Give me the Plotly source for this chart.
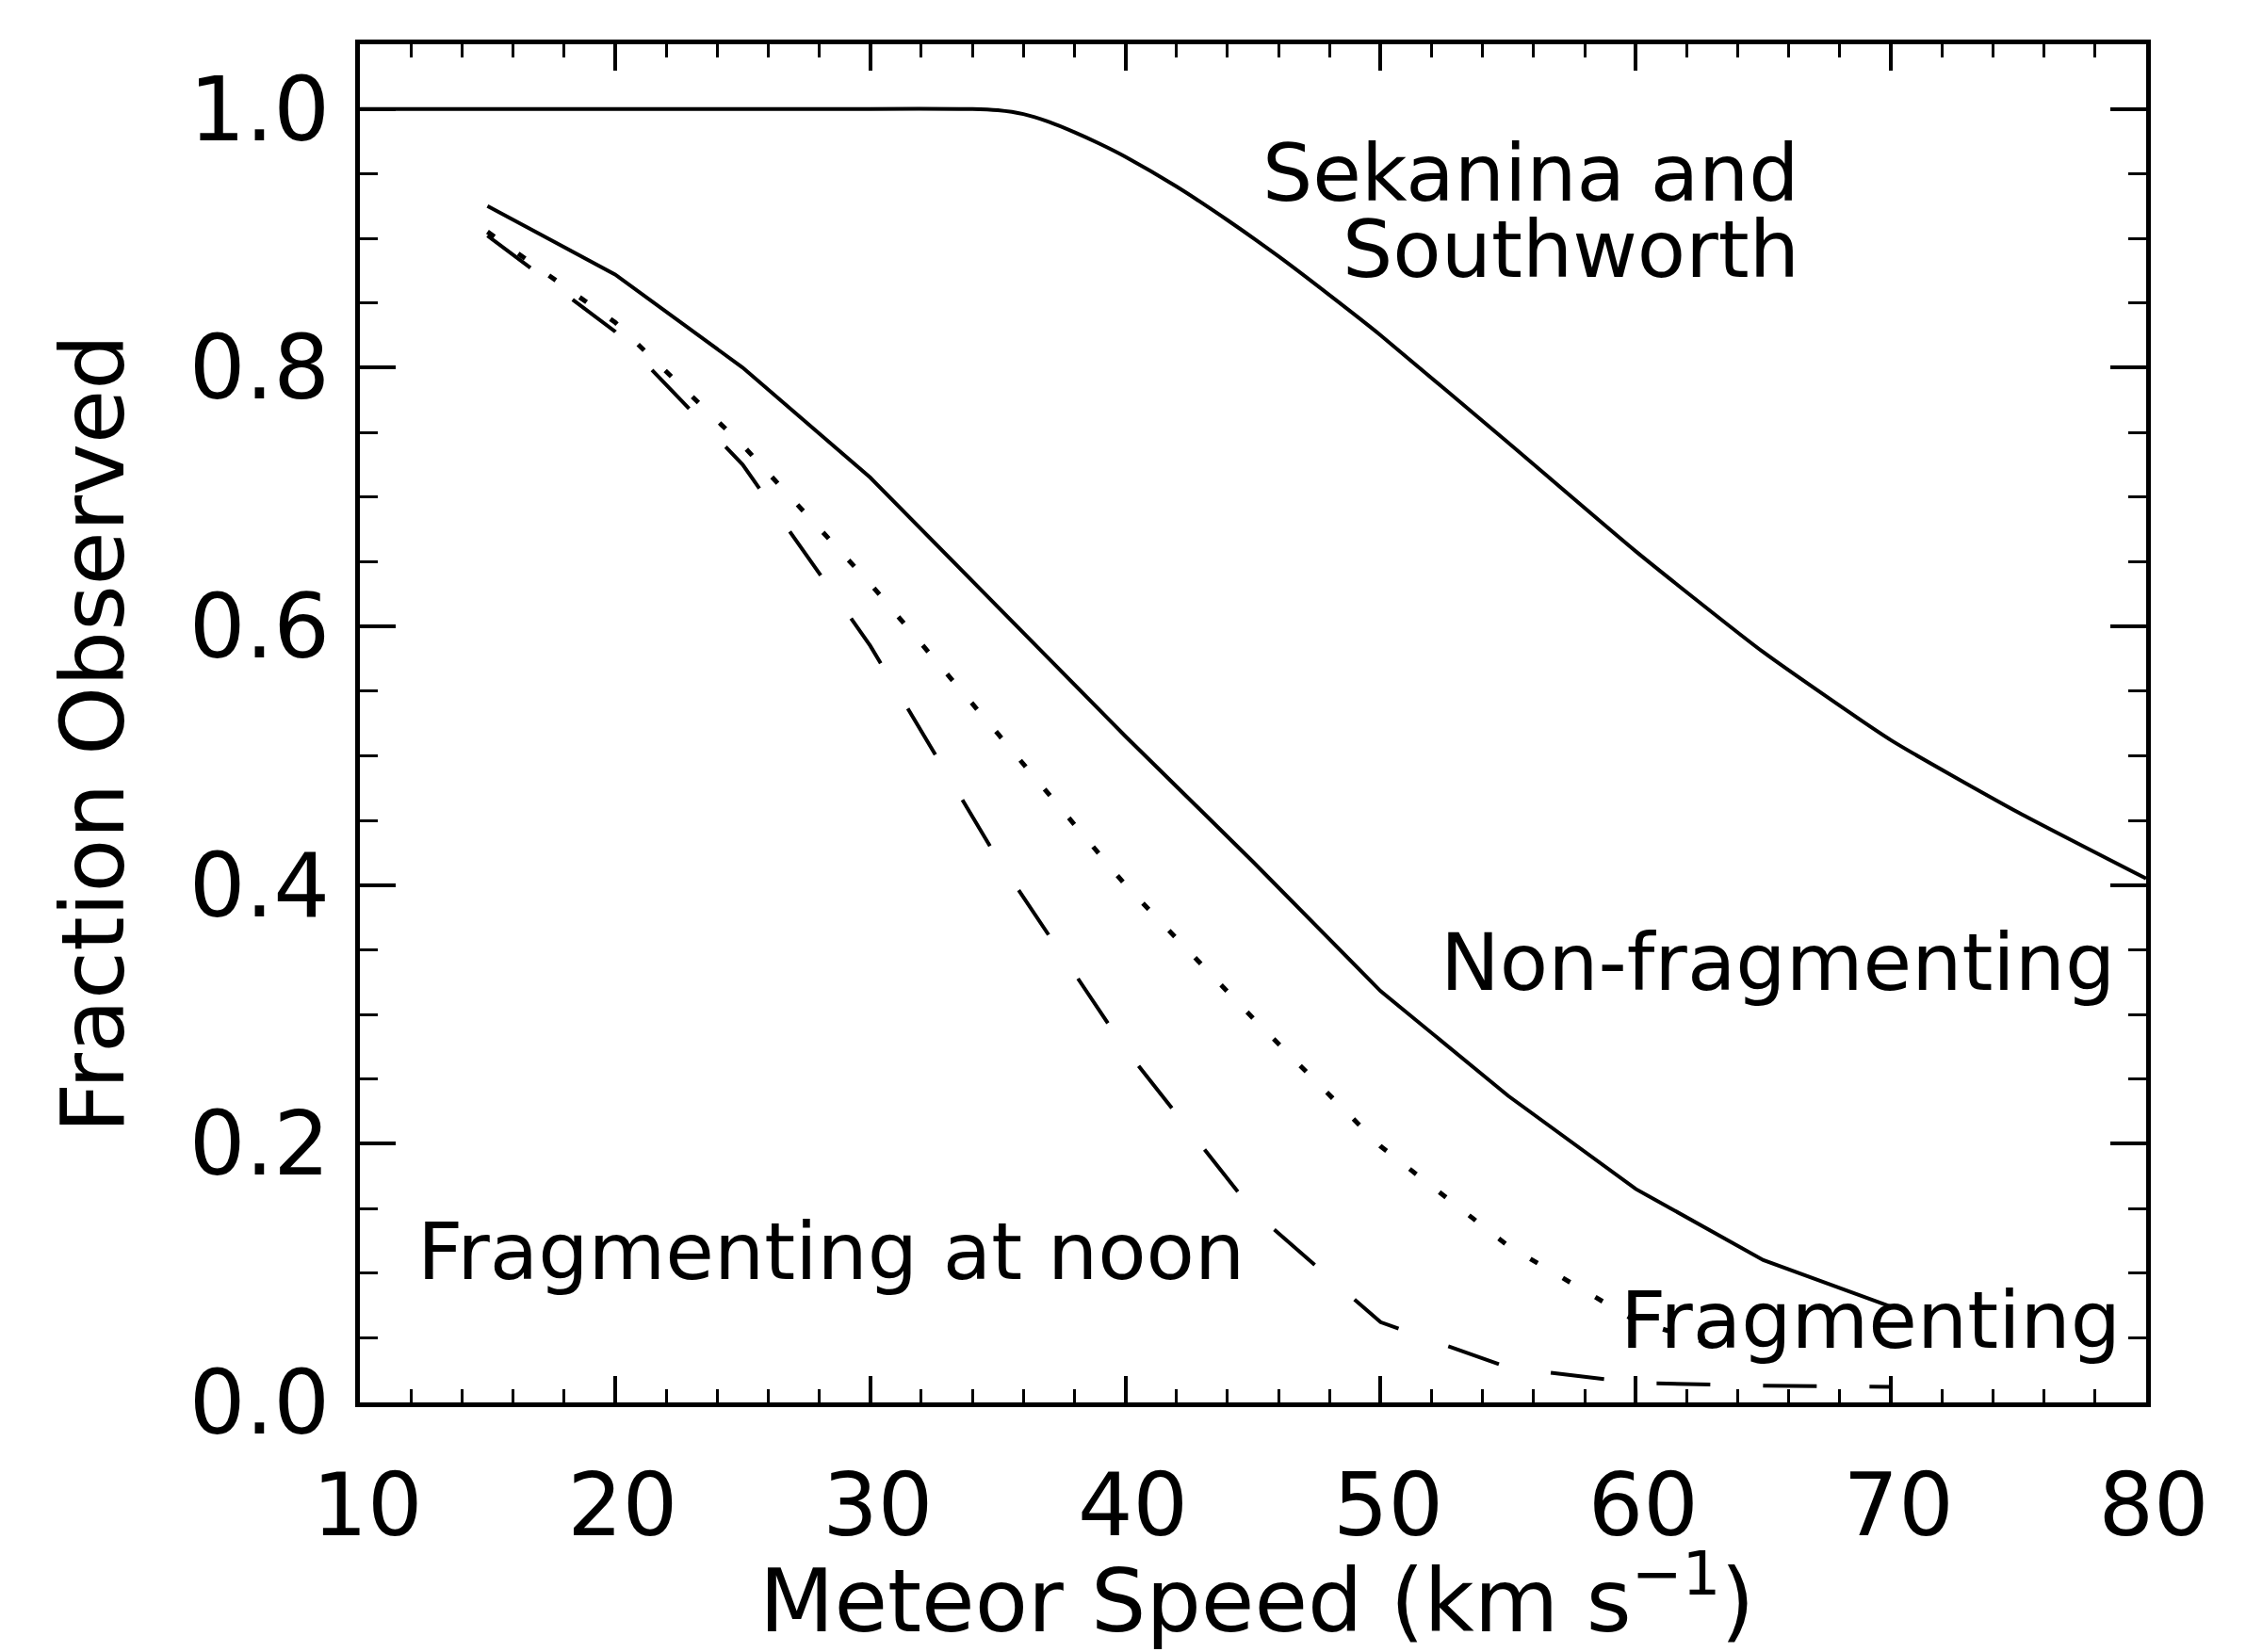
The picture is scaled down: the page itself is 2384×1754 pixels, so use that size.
import plotly.graph_objects as go

# ---------------- data ----------------
speed_sek = [10, 20, 30, 34, 35, 36, 37, 38, 39, 40, 42, 44, 46, 48, 50, 55, 60, 65, 70, 75, 80]
frac_sek = [1.0, 1.0, 1.0, 1.0, 0.999, 0.996, 0.99, 0.982, 0.973, 0.963, 0.94, 0.914, 0.886,
            0.856, 0.825, 0.742, 0.658, 0.58, 0.512, 0.456, 0.405]

speed_nonfrag = [15, 20, 25, 30, 35, 40, 45, 50, 55, 60, 65, 70]
frac_nonfrag = [0.925, 0.872, 0.80, 0.715, 0.615, 0.515, 0.418, 0.318, 0.237, 0.165, 0.110, 0.074]

speed_frag = [15, 20, 25, 30, 35, 40, 45, 50, 55, 60, 63]
frac_frag = [0.905, 0.835, 0.74, 0.633, 0.517, 0.40, 0.297, 0.198, 0.121, 0.063, 0.045]

speed_noon = [15, 20, 25, 30, 35, 40, 45, 50, 55, 60, 65, 70]
frac_noon = [0.902, 0.828, 0.725, 0.585, 0.42, 0.273, 0.148, 0.062, 0.027, 0.015, 0.013, 0.012]

x_ticks = [10, 20, 30, 40, 50, 60, 70, 80]
y_ticks = [0.0, 0.2, 0.4, 0.6, 0.8, 1.0]
y_ticktext = ["0.0", "0.2", "0.4", "0.6", "0.8", "1.0"]

FONT = "DejaVu Sans"

fig = go.Figure()
fig.add_trace(go.Scatter(x=speed_sek, y=frac_sek, mode="lines",
                         line=dict(color="black", width=4, shape="spline", smoothing=0.5)))
fig.add_trace(go.Scatter(x=speed_nonfrag, y=frac_nonfrag, mode="lines",
                         line=dict(color="black", width=4)))
fig.add_trace(go.Scatter(x=speed_frag, y=frac_frag, mode="lines",
                         line=dict(color="black", width=5, dash="9px,31px")))
fig.add_trace(go.Scatter(x=speed_noon, y=frac_noon, mode="lines",
                         line=dict(color="black", width=4, dash="57px,56px")))

# curve labels
lab_font = dict(family=FONT, size=84, color="black")
fig.add_annotation(x=66.5, y=0.95, xref="x", yref="y", text="Sekanina and",
                   showarrow=False, xanchor="right", yanchor="middle", font=lab_font)
fig.add_annotation(x=66.5, y=0.891, xref="x", yref="y", text="Southworth",
                   showarrow=False, xanchor="right", yanchor="middle", font=lab_font)
fig.add_annotation(x=78.85, y=0.340, xref="x", yref="y", text="Non-fragmenting",
                   showarrow=False, xanchor="right", yanchor="middle", font=lab_font)
fig.add_annotation(x=79.07, y=0.0634, xref="x", yref="y", text="Fragmenting",
                   showarrow=False, xanchor="right", yanchor="middle", font=lab_font)
fig.add_annotation(x=12.18, y=0.1165, xref="x", yref="y", text="Fragmenting at noon",
                   showarrow=False, xanchor="left", yanchor="middle", font=lab_font)

# axis titles
fig.add_annotation(x=-0.1493, y=0.4924, xref="paper", yref="paper",
                   text="Fraction Observed", textangle=-90, showarrow=False,
                   xanchor="center", yanchor="middle",
                   font=dict(family=FONT, size=93, color="black"))
fig.add_annotation(x=0.502, y=-0.142, xref="paper", yref="paper",
                   text="Meteor Speed (km s<sup>\u22121</sup>)", showarrow=False,
                   xanchor="center", yanchor="middle",
                   font=dict(family=FONT, size=92, color="black"))

fig.update_xaxes(range=[10, 80], tickvals=x_ticks, ticks="inside", ticklen=28, tickwidth=4,
                 tickcolor="black", showline=True, linewidth=5, linecolor="black",
                 mirror="ticks", showgrid=False, zeroline=False,
                 tickfont=dict(family=FONT, size=92, color="black"),
                 ticklabelstandoff=26, ticklabelshift=8,
                 minor=dict(ticks="inside", ticklen=14, tickwidth=3, dtick=2, tickcolor="black",
                            showgrid=False))
fig.update_yaxes(range=[0, 1.05], tickvals=y_ticks, ticktext=y_ticktext, ticks="inside",
                 ticklen=38, tickwidth=4, tickcolor="black", showline=True, linewidth=5,
                 linecolor="black", mirror="ticks", showgrid=False, zeroline=False,
                 tickfont=dict(family=FONT, size=94, color="black"), ticklabelstandoff=8,
                 minor=dict(ticks="inside", ticklen=19, tickwidth=3, dtick=0.05, tickcolor="black",
                            showgrid=False))

fig.update_layout(width=2384, height=1754, margin=dict(l=382, r=106, t=47, b=265),
                  paper_bgcolor="white", plot_bgcolor="white", showlegend=False,
                  font=dict(family=FONT, color="black"))

fig.write_html("out.html")
